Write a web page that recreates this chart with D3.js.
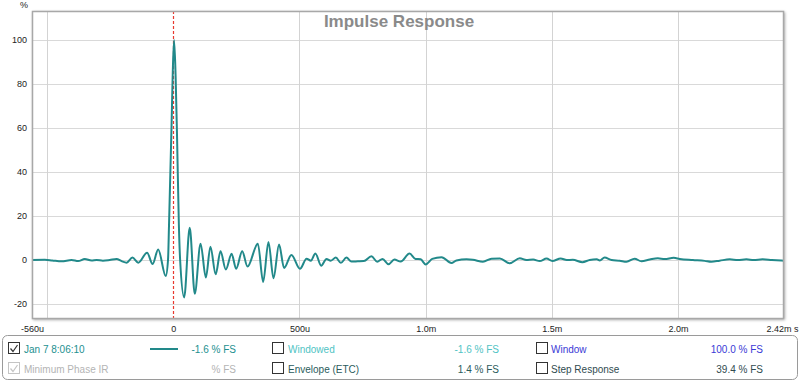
<!DOCTYPE html>
<html><head><meta charset="utf-8">
<script src="https://cdn.jsdelivr.net/npm/d3@7/dist/d3.min.js"></script>
<style>
html,body{margin:0;padding:0;background:#fff;}
svg text{font-family:"Liberation Sans",Arial,sans-serif;}
</style></head>
<body>
<svg id="c" width="800" height="382"></svg>
<script>
// ---- data ----
const timesUs = [-560,-509,-480,-443,-403,-377,-351,-324,-304,-279,-252,-225,-205,-185,-162,-139,-104,-82,-60,-30,
  -21,-17,-7,-2,3,9,15,22,27,43,
  65,85,108,129,147,168,187,208,231,249,273,294,335,356,377,397,419,439,468,502,528,545,563,586,607,624,644,664,686,706,731,755,785,808,829,853,876,901,936,960,980,1000,1026,1063,1102,1122,1162,1187,1227,1261,1294,1333,1373,1399,1426,1452,1479,1502,1535,1559,1583,1621,1650,1678,1690,1709,1737,1769,1796,1828,1855,1888,1920,1947,1983,2007,2059,2106,2132,2165,2205,2237,2271,2300,2335,2372,2420];
const valuesPct = [0,0.1,-0.2,-0.6,0,-0.5,0.45,-0.2,0,-0.3,0,0.45,-0.5,-1.2,1.1,-1.2,3.3,-1.8,4.8,-7.3,
  0,16,61,86,100,84,55,16,0,-17,
  14.7,-15.3,7.4,-8,6,-6.5,4,-4.3,2.8,-4,4,-3,7.4,-10,8.2,-8.3,7,-3.6,2.3,-4,0.6,-0.3,3,-2.6,0.5,-0.3,1.1,-1.3,1.1,-0.7,-0.6,-0.5,1.7,-0.8,0.5,-1.9,0.2,-0.7,2.9,0.5,0.3,-2,0.5,1.3,-1.4,-0.2,0.3,0.1,-0.8,0.6,0.7,-1.5,0.8,0,0.2,-0.5,0.7,-0.5,0.7,0,0.1,-1,0,0.3,-0.2,1.1,0,-0.3,-0.8,0.6,-0.6,0.2,0.8,0.4,1,0.5,0,-0.4,-0.8,-0.3,0.3,0,0.3,0,0.3,0,-0.3];
const xDomainMs = [-0.56, 2.42];
const yDomainPct = [-26.82, 113.18];
const xTickValuesMs = [-0.56, 0, 0.5, 1.0, 1.5, 2.0, 2.42];
const xTickLabels = ["-560u","0","500u","1.0m","1.5m","2.0m","2.42m s"];
const xGridMs = [-0.5, 0.5, 1.0, 1.5, 2.0];
const yTickValues = [-20, 0, 20, 40, 60, 80, 100];
const legendRow1 = [
  {name:"Jan 7 8:06:10", value:"-1.6 % FS", checked:true, color:"#23908f", swatch:true},
  {name:"Windowed", value:"-1.6 % FS", checked:false, color:"#4fc3c4"},
  {name:"Window", value:"100.0 % FS", checked:false, color:"#3a3ad6"}
];
const legendRow2 = [
  {name:"Minimum Phase IR", value:"% FS", checked:true, color:"#b4b4b4", disabled:true},
  {name:"Envelope (ETC)", value:"1.4 % FS", checked:false, color:"#2b5b5c"},
  {name:"Step Response", value:"39.4 % FS", checked:false, color:"#304b4f"}
];

// ---- layout ----
const L = 32, R = 784, T = 11, B = 319;
const svg = d3.select("#c");
const x = d3.scaleLinear().domain(xDomainMs).range([L, R]);
const y = d3.scaleLinear().domain(yDomainPct).range([B, T]);

// shadow of frame
const defs = svg.append("defs");
const f = defs.append("filter").attr("id","sh").attr("x","-5%").attr("y","-5%").attr("width","110%").attr("height","110%");
f.append("feGaussianBlur").attr("in","SourceAlpha").attr("stdDeviation",1.5);
f.append("feOffset").attr("dx",1).attr("dy",1).attr("result","o");
f.append("feComponentTransfer").append("feFuncA").attr("type","linear").attr("slope",0.35);
const fm = f.append("feMerge"); fm.append("feMergeNode"); fm.append("feMergeNode").attr("in","SourceGraphic");
svg.append("rect").attr("x",L).attr("y",T).attr("width",R-L).attr("height",B-T)
  .attr("fill","#fff").attr("filter","url(#sh)");

defs.append("clipPath").attr("id","clip").append("rect").attr("x",L).attr("y",T).attr("width",R-L).attr("height",B-T);

// grid
svg.append("g").selectAll("line").data(yTickValues).join("line")
  .attr("x1",L).attr("x2",R).attr("y1",d=>Math.round(y(d))+0.5).attr("y2",d=>Math.round(y(d))+0.5)
  .attr("stroke","#d9d9d9").attr("stroke-width",1);
svg.append("g").selectAll("line").data(xGridMs).join("line")
  .attr("y1",T).attr("y2",B).attr("x1",d=>Math.round(x(d))+0.5).attr("x2",d=>Math.round(x(d))+0.5)
  .attr("stroke","#d3d3d3").attr("stroke-width",1);

// red dashed zero line
svg.append("line").attr("x1",Math.round(x(0))+0.5).attr("x2",Math.round(x(0))+0.5).attr("y1",T).attr("y2",B)
  .attr("stroke","#e8392f").attr("stroke-width",1.2).attr("stroke-dasharray","3,2");

// the curve
const pts = timesUs.map((t,i)=>[t/1000, valuesPct[i]]);
const line = d3.line().x(d=>x(d[0])).y(d=>y(d[1])).curve(d3.curveMonotoneX);
svg.append("path").datum(pts).attr("d",line).attr("clip-path","url(#clip)")
  .attr("fill","none").attr("stroke","#22898a").attr("stroke-width",2).attr("stroke-linejoin","round");

// frame
svg.append("rect").attr("x",L+0.5).attr("y",T+0.5).attr("width",R-L-1).attr("height",B-T-1)
  .attr("fill","none").attr("stroke","#a8a8a8").attr("stroke-width",1.5);

// axes
const xAxis = d3.axisBottom(x).tickValues(xTickValuesMs).tickSize(0).tickPadding(0)
  .tickFormat((d,i)=>xTickLabels[i]);
const gx = svg.append("g").attr("transform",`translate(0,${B+13})`).call(xAxis);
gx.select(".domain").remove();
gx.selectAll("text").attr("font-size",9).attr("fill","#222").attr("dy",0)
  .attr("font-family","Liberation Sans, Arial, sans-serif");
gx.selectAll(".tick").filter((d,i)=>i===xTickLabels.length-1).select("text").attr("text-anchor","end").attr("dx",14);

const yAxis = d3.axisLeft(y).tickValues(yTickValues).tickSize(0).tickPadding(5).tickFormat(d=>d);
const gy = svg.append("g").attr("transform",`translate(${L},0)`).call(yAxis);
gy.select(".domain").remove();
gy.selectAll("text").attr("font-size",9).attr("fill","#222").attr("font-family","Liberation Sans, Arial, sans-serif");

svg.append("text").attr("x",24).attr("y",8).attr("text-anchor","middle").attr("font-size",9).attr("fill","#222").text("%");

// title
svg.append("text").attr("x",399).attr("y",27).attr("text-anchor","middle")
  .attr("font-size",17).attr("font-weight","bold").attr("fill","#8a8a8a").text("Impulse Response");

// legend
svg.append("rect").attr("x",2.5).attr("y",335.5).attr("width",795).attr("height",44)
  .attr("rx",5).attr("fill","#fff").attr("stroke","#9a9a9a").attr("stroke-width",1);

const colCb = [8, 272, 536], colName = [24, 288, 551], colVal = [236, 499, 763];
function drawRow(items, cy){
  items.forEach((it,i)=>{
    const g = svg.append("g");
    g.append("rect").attr("x",colCb[i]+0.5).attr("y",cy-6.5).attr("width",11).attr("height",11)
      .attr("fill","#fff").attr("stroke",it.disabled?"#c4c4c4":"#333").attr("stroke-width",1);
    if(it.checked){
      g.append("path").attr("d",`M${colCb[i]+2.5},${cy-0.5} L${colCb[i]+5},${cy+2.5} L${colCb[i]+9.5},${cy-4}`)
        .attr("fill","none").attr("stroke",it.disabled?"#c4c4c4":"#333").attr("stroke-width",1.2);
    }
    g.append("text").attr("x",colName[i]).attr("y",cy+3.5).attr("font-size",10).attr("fill",it.color).text(it.name);
    g.append("text").attr("x",colVal[i]).attr("y",cy+3.5).attr("text-anchor","end").attr("font-size",10).attr("fill",it.color).text(it.value);
    if(it.swatch){
      g.append("line").attr("x1",150).attr("x2",178).attr("y1",cy).attr("y2",cy).attr("stroke","#22898a").attr("stroke-width",2);
    }
  });
}
drawRow(legendRow1, 349);
drawRow(legendRow2, 369);
</script>
</body></html>
